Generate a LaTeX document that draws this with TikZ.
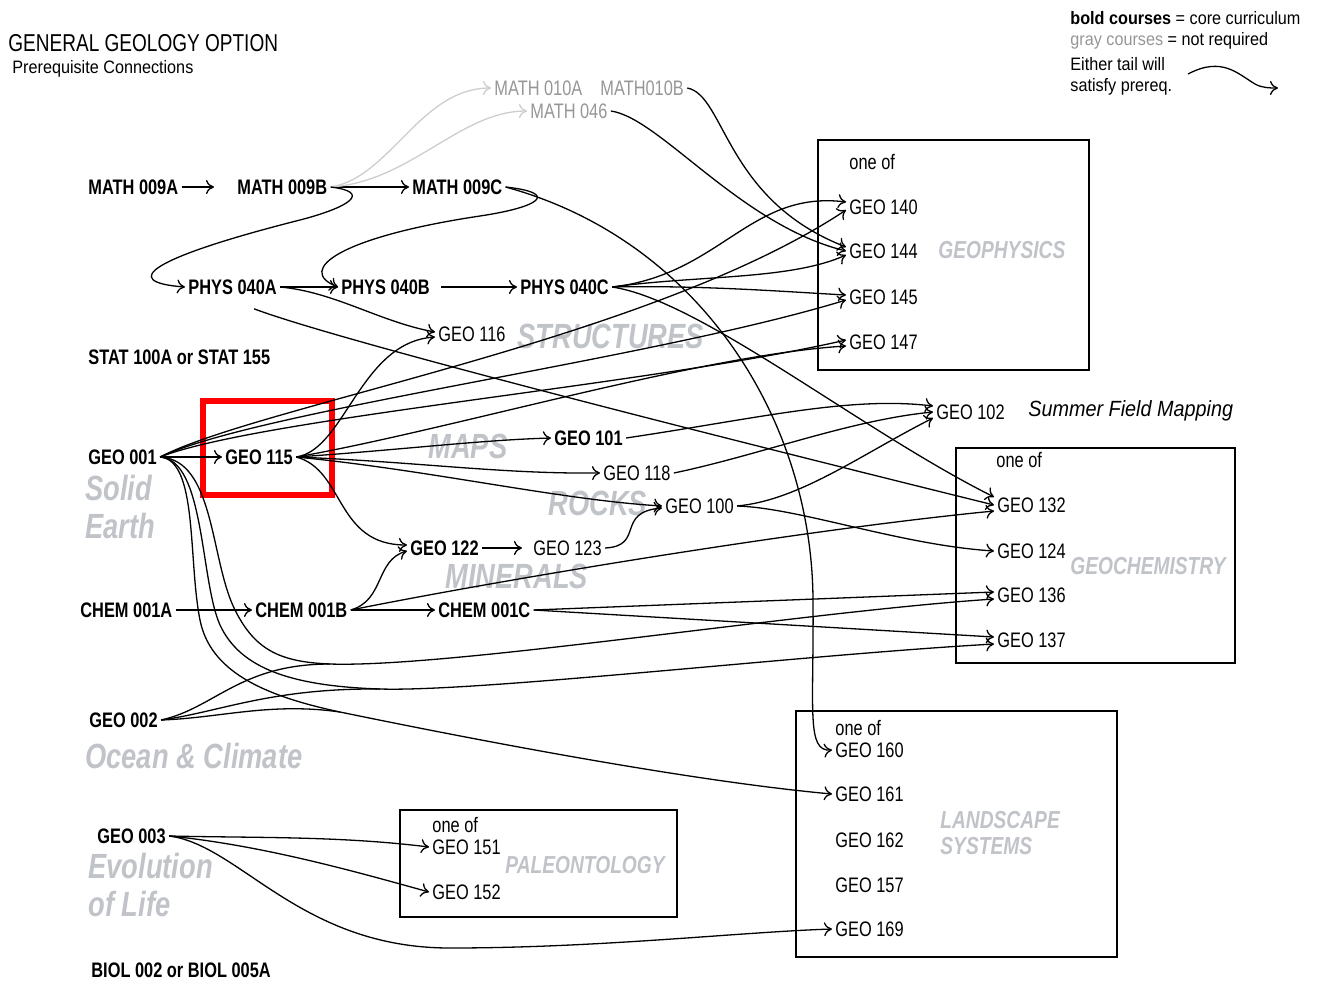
\documentclass[tikz,border=0pt]{standalone}
\usepackage{fontspec}
\setmainfont{Liberation Sans}[FakeStretch=0.78]
\newfontfamily\legendfont{Liberation Sans}[FakeStretch=0.9]
\usetikzlibrary{arrows.meta}

\definecolor{faint}{RGB}{192,195,200}
\definecolor{optgray}{RGB}{150,150,150}
\definecolor{optline}{RGB}{205,205,205}

\tikzset{
  >={To[length=4pt,width=7pt]},
  course/.style={anchor=west, inner sep=1.5pt, font=\fontsize{10.5}{12}\selectfont},
  core/.style={course, font=\fontsize{10.5}{12}\selectfont\bfseries},
  optional/.style={course, text=optgray},
  area/.style={anchor=west, inner sep=0pt, text=faint, font=\fontsize{17.5}{20}\selectfont\bfseries\itshape},
  boxarea/.style={area, font=\fontsize{12.3}{14}\selectfont\bfseries\itshape},
  legend/.style={anchor=west, inner sep=0pt, font=\legendfont\fontsize{9}{10}\selectfont},
  prereq/.style={->, line width=0.65pt},
  grayprereq/.style={->, line width=0.65pt, optline},
  groupbox/.style={draw, line width=0.7pt},
}

\begin{document}
\begin{tikzpicture}[x=0.5pt, y=-0.5pt]
\useasboundingbox (0,0) rectangle (1322,980);

% Title
\node[anchor=west, inner sep=0pt, font=\fontsize{12.2}{14}\selectfont] (title) at (8,43) {GENERAL GEOLOGY OPTION};
\node[anchor=west, inner sep=0pt, font=\legendfont\fontsize{9}{11}\selectfont] (subtitle) at (12,69) {Prerequisite Connections};

% Legend
\node[legend] (leg1) at (1070,18) {\textbf{bold courses} = core curriculum};
\node[legend] (leg2) at (1070,41) {\textcolor{optgray}{gray courses} = not required};
\node[legend] (leg3) at (1070,64) {Either tail will};
\node[legend] (leg4) at (1070,87) {satisfy prereq.};
\coordinate (tailstart) at (1188,74);
\coordinate (tailend) at (1278,88);
\draw[prereq] (tailstart) .. controls (1222,56) and (1238,74) .. (1255,84) .. controls (1262,88) and (1270,88) .. (tailend);

% Subject areas (background)
\node[area] at (85,488) {Solid};
\node[area] at (85,526) {Earth};
\node[area] at (85,756) {Ocean \& Climate};
\node[area] at (88,866) {Evolution};
\node[area] at (88,904) {of Life};
\node[area] at (517,336) {STRUCTURES};
\node[area] at (428,446) {MAPS};
\node[area] at (548,503) {ROCKS};
\node[area] at (445,576) {MINERALS};
\node[boxarea] at (938,250) {GEOPHYSICS};
\node[boxarea] at (1070,566) {GEOCHEMISTRY};
\node[boxarea] at (940,820) {LANDSCAPE};
\node[boxarea] at (940,846) {SYSTEMS};
\node[boxarea] at (505,865) {PALEONTOLOGY};

% Groups
\draw[groupbox] (818,140) rectangle (1089,370);
\draw[groupbox] (956,448) rectangle (1235,663);
\draw[groupbox] (796,711) rectangle (1117,957);
\draw[groupbox] (400,810) rectangle (677,917);

% Lower division courses
\node[core] (m9a) at (85,187) {MATH 009A};
\node[core] (m9b) at (234,187) {MATH 009B};
\node[core] (m9c) at (409,187) {MATH 009C};
\node[optional] (m10a) at (491,88) {MATH 010A};
\node[optional] (m10b) at (597,88) {MATH010B};
\node[optional] (m46) at (527,111) {MATH 046};
\node[core] (p40a) at (185,287) {PHYS 040A};
\node[core] (p40b) at (338,287) {PHYS 040B};
\node[core] (p40c) at (517,287) {PHYS 040C};
\node[core] (stat) at (85,357) {STAT 100A or STAT 155};
\node[core] (g001) at (85,457) {GEO 001};
\node[core] (g115) at (222,457) {GEO 115};
\node[course] (g116) at (435,334) {GEO 116};
\node[core] (g101) at (551,438) {GEO 101};
\node[course] (g118) at (600,473) {GEO 118};
\node[course] (g100) at (662,506) {GEO 100};
\node[core] (g122) at (407,548) {GEO 122};
\node[course] (g123) at (530,548) {GEO 123};
\node[core] (c1a) at (77,610) {CHEM 001A};
\node[core] (c1b) at (252,610) {CHEM 001B};
\node[core] (c1c) at (435,610) {CHEM 001C};
\node[core] (g002) at (86,720) {GEO 002};
\node[core] (g003) at (94,836) {GEO 003};
\node[core] (biol) at (88,970) {BIOL 002 or BIOL 005A};

% Upper division courses
\node[course] (oneof1) at (846,162) {one of};
\node[course] (g140) at (846,207) {GEO 140};
\node[course] (g144) at (846,251) {GEO 144};
\node[course] (g145) at (846,297) {GEO 145};
\node[course] (g147) at (846,342) {GEO 147};
\node[course] (g102) at (933,412) {GEO 102};
\node[anchor=west, inner sep=0pt, font=\legendfont\fontsize{11}{12}\selectfont\itshape] (summer) at (1028,411) {Summer Field Mapping};
\node[course] (oneof2) at (993,460) {one of};
\node[course] (g132) at (994,505) {GEO 132};
\node[course] (g124) at (994,551) {GEO 124};
\node[course] (g136) at (994,595) {GEO 136};
\node[course] (g137) at (994,640) {GEO 137};
\node[course] (oneof3) at (832,728) {one of};
\node[course] (g160) at (832,750) {GEO 160};
\node[course] (g161) at (832,794) {GEO 161};
\node[course] (g162) at (832,840) {GEO 162};
\node[course] (g157) at (832,885) {GEO 157};
\node[course] (g169) at (832,929) {GEO 169};
\node[course] (oneof4) at (429,825) {one of};
\node[course] (g151) at (429,847) {GEO 151};
\node[course] (g152) at (429,892) {GEO 152};

% Highlight
\draw[red, line width=3pt] (203,401) rectangle (332,495);

% Math and physics
\draw[prereq, shorten >=10pt] (m9a) -- (m9b);
\draw[prereq] (m9b) -- (m9c);
\draw[grayprereq] (m9b.east) .. controls (390,178) and (420,88) .. (m10a.west);
\draw[grayprereq] (m9b.east) .. controls (410,182) and (460,111) .. (m46.west);
\draw[prereq] (m9b.east) .. controls (372,192) and (350,207) .. (300,220) .. controls (150,258) and (118,282) .. (p40a.west);
\draw[prereq] (m9c.east) .. controls (560,193) and (540,207) .. (480,216) .. controls (340,237) and (295,270) .. (p40b.west);
\draw[prereq] (p40a) -- (p40b);
\draw[prereq, shorten <=4pt] (p40b) -- (p40c);
\draw[prereq] (m10b.east) .. controls (725,95) and (725,200) .. ([yshift=2pt]g144.west);
\draw[prereq] (m46.east) .. controls (660,118) and (740,225) .. (g144.west);
\draw[prereq] (p40c.east) .. controls (720,275) and (750,190) .. ([yshift=2.5pt]g140.west);
\draw[prereq] (p40c.east) .. controls (700,275) and (790,280) .. ([yshift=-2pt]g144.west);
\draw[prereq] (p40c.east) .. controls (700,285) and (790,292) .. ([yshift=1pt]g145.west);
\draw[prereq] (p40c.east) .. controls (700,300) and (860,430) .. ([yshift=4pt]g132.west);
\draw[prereq] (m9c.east) .. controls (700,240) and (812,420) .. (813,600) .. controls (814,710) and (806,752) .. (g160.west);
\draw[prereq] (p40a.east) .. controls (335,292) and (380,322) .. ([yshift=1pt]g116.west);
\draw[prereq] ([shift={(-26,11)}]p40a.south east) .. controls (350,345) and (820,462) .. (g132.west);

% GEO 001 and GEO 115
\draw[prereq] (g001) -- (g115);
\draw[prereq] (g001.east) .. controls (260,405) and (650,340) .. ([yshift=-1.5pt]g140.west);
\draw[prereq] (g001.east) .. controls (260,410) and (650,360) .. ([yshift=-1.5pt]g145.west);
\draw[prereq] (g001.east) .. controls (260,418) and (650,385) .. ([yshift=1pt]g147.west);
\draw[prereq] (g115.east) .. controls (450,430) and (700,355) .. ([yshift=-2pt]g147.west);
\draw[prereq] (g115.east) .. controls (345,450) and (360,342) .. ([yshift=-1.5pt]g116.west);
\draw[prereq] (g115.east) .. controls (400,450) and (480,440) .. (g101.west);
\draw[prereq] (g115.east) .. controls (420,462) and (500,474) .. (g118.west);
\draw[prereq] (g115.east) .. controls (430,470) and (560,500) .. (g100.west);
\draw[prereq] (g115.east) .. controls (345,470) and (335,545) .. ([yshift=1.5pt]g122.west);

% Either tail: GEO 001 or GEO 002
\coordinate (j136) at (330,664);
\coordinate (j137) at (380,689);
\coordinate (j161) at (340,712);
\draw[prereq] (g001.east) .. controls (215,460) and (210,560) .. (235,610) .. controls (255,650) and (280,662) .. (j136) .. controls (450,668) and (800,612) .. ([yshift=-2pt]g136.west);
\draw[prereq] (g001.east) .. controls (205,460) and (200,580) .. (220,625) .. controls (240,668) and (290,686) .. (j137) .. controls (480,692) and (800,655) .. ([yshift=-2pt]g137.west);
\draw[prereq] (g001.east) .. controls (198,460) and (188,560) .. (200,620) .. controls (210,670) and (260,695) .. (j161) .. controls (500,745) and (700,782) .. (g161.west);
\draw[line width=0.65pt] (g002.east) .. controls (215,708) and (240,664) .. (j136);
\draw[line width=0.65pt] (g002.east) .. controls (220,712) and (270,688) .. (j137);
\draw[line width=0.65pt] (g002.east) .. controls (220,718) and (270,702) .. (j161);

% Chemistry and minerals
\draw[prereq] (c1a) -- (c1b);
\draw[prereq] (c1b) -- (c1c);
\draw[prereq] (c1b.east) .. controls (385,600) and (375,560) .. ([yshift=-1.5pt]g122.west);
\draw[prereq] (c1b.east) .. controls (500,580) and (800,530) .. ([yshift=-3pt]g132.west);
\draw[prereq] (c1c.east) -- ([yshift=1.5pt]g136.west);
\draw[prereq] (c1c.east) -- ([yshift=1.5pt]g137.west);
\draw[prereq, shorten >=4pt] (g122) -- (g123);
\draw[prereq] (g123.east) .. controls (645,546) and (615,512) .. ([yshift=-1pt]g100.west);

% Field mapping and geochemistry
\draw[prereq] (g101.east) .. controls (760,418) and (850,396) .. ([yshift=3pt]g102.west);
\draw[prereq] (g118.east) .. controls (760,455) and (850,420) .. (g102.west);
\draw[prereq] (g100.east) .. controls (800,500) and (860,455) .. ([yshift=-3pt]g102.west);
\draw[prereq] (g100.east) .. controls (800,508) and (900,545) .. (g124.west);

% Paleontology and landscape
\draw[prereq] (g003.east) .. controls (260,838) and (340,836) .. (g151.west);
\draw[prereq] (g003.east) .. controls (260,845) and (350,870) .. (g152.west);
\draw[prereq] (g003.east) .. controls (240,845) and (300,948) .. (450,948) .. controls (600,948) and (740,932) .. (g169.west);
\end{tikzpicture}
\end{document}
